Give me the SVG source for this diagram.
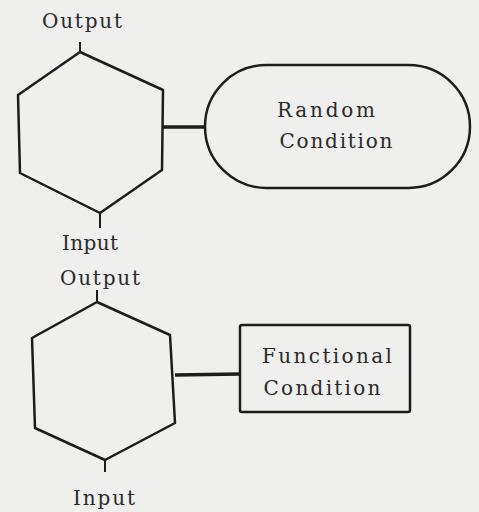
<svg xmlns="http://www.w3.org/2000/svg" width="479" height="512" viewBox="0 0 479 512">
<style>
.shape{fill:none;stroke:#1c1c1c;stroke-width:2.5;stroke-linejoin:round}
.tick{stroke:#1c1c1c;stroke-width:2}
.conn{stroke:#1c1c1c;stroke-width:3.5}
text{font-family:"DejaVu Serif","Liberation Serif",serif;font-size:20px;fill:#2a2a2a;text-anchor:middle}
</style>
<rect width="479" height="512" fill="#efefed"/>
<g id="hex1">
<polygon class="shape" points="80,52 163,90 162,170 100,213 20,173 18,95"/>
<line class="tick" x1="80" y1="42" x2="80" y2="52"/>
<line class="tick" x1="100" y1="213" x2="100" y2="228"/>
<text x="82" y="28" textLength="80" lengthAdjust="spacing">Output</text>
<text x="90" y="250" textLength="56" lengthAdjust="spacing">Input</text>
</g>
<g id="random">
<rect class="shape" x="205" y="65" width="265" height="123" rx="61.5" ry="61.5"/>
<text x="326" y="117" textLength="98" lengthAdjust="spacing">Random</text>
<text x="336" y="148" textLength="113" lengthAdjust="spacing">Condition</text>
</g>
<g id="hex2">
<polygon class="shape" points="97,302 170,335 175,423 105,460 35,428 32,338"/>
<line class="tick" x1="97" y1="290" x2="97" y2="302"/>
<line class="tick" x1="105" y1="460" x2="105" y2="472"/>
<text x="100" y="285" textLength="80" lengthAdjust="spacing">Output</text>
<text x="104" y="505" textLength="62" lengthAdjust="spacing">Input</text>
</g>
<g id="functional">
<rect class="shape" x="240" y="325" width="170" height="87" rx="2"/>
<text x="327" y="363" textLength="130" lengthAdjust="spacing">Functional</text>
<text x="322" y="395" textLength="117" lengthAdjust="spacing">Condition</text>
</g>
<g id="connectors">
<line class="conn" x1="163" y1="127" x2="206" y2="127"/>
<line class="conn" x1="175" y1="375" x2="240" y2="374"/>
</g>
</svg>
